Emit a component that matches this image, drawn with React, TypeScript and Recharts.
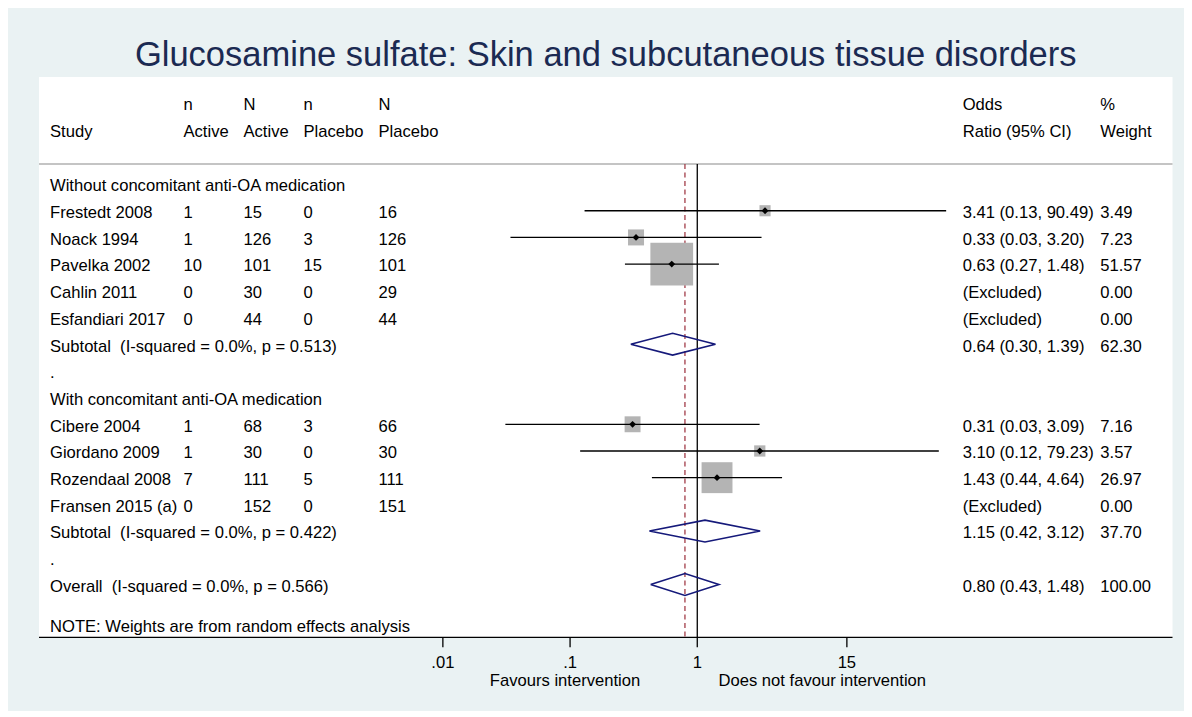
import React from 'react';
import { ComposedChart, XAxis, YAxis, Scatter, ReferenceLine, CartesianGrid } from 'recharts';

// ---------- data ----------
const TITLE = 'Glucosamine sulfate: Skin and subcutaneous tissue disorders';
const headerTop = ['', 'n', 'N', 'n', 'N', 'Odds', '%'];
const headerBottom = ['Study', 'Active', 'Active', 'Placebo', 'Placebo', 'Ratio (95% CI)', 'Weight'];

const groupLabels = ['Without concomitant anti-OA medication', 'With concomitant anti-OA medication'];
const groupRows = [0, 8];

const studyNames = [
  'Frestedt 2008', 'Noack 1994', 'Pavelka 2002', 'Cahlin 2011', 'Esfandiari 2017',
  'Cibere 2004', 'Giordano 2009', 'Rozendaal 2008', 'Fransen 2015 (a)',
];
const studyRows = [1, 2, 3, 4, 5, 9, 10, 11, 12];
const nActive = [1, 1, 10, 0, 0, 1, 1, 7, 0];
const NActive = [15, 126, 101, 30, 44, 68, 30, 111, 152];
const nPlacebo = [0, 3, 15, 0, 0, 3, 0, 5, 0];
const NPlacebo = [16, 126, 101, 29, 44, 66, 30, 111, 151];
const studyOr: (number | null)[] = [3.41, 0.33, 0.63, null, null, 0.31, 3.10, 1.43, null];
const studyLow: (number | null)[] = [0.13, 0.034, 0.27, null, null, 0.031, 0.12, 0.44, null];
const studyHigh: (number | null)[] = [90.49, 3.20, 1.48, null, null, 3.09, 79.23, 4.64, null];
const studyWeight = [3.49, 7.23, 51.57, 0.0, 0.0, 7.16, 3.57, 26.97, 0.0];

const summaryLabels = [
  'Subtotal  (I-squared = 0.0%, p = 0.513)',
  'Subtotal  (I-squared = 0.0%, p = 0.422)',
  'Overall  (I-squared = 0.0%, p = 0.566)',
];
const summaryRows = [6, 13, 15];
const summaryOr = [0.64, 1.15, 0.80];
const summaryLow = [0.30, 0.42, 0.43];
const summaryHigh = [1.39, 3.12, 1.48];
const summaryWeight = [62.30, 37.70, 100.0];

const spacerRows = [7, 14];
const noteText = 'NOTE: Weights are from random effects analysis';
const noteRow = 16.5;

const xTicks = [0.01, 0.1, 1, 15];
const xTickLabels = ['.01', '.1', '1', '15'];
const nullValue = 1;
const favoursLeft = 'Favours intervention';
const favoursRight = 'Does not favour intervention';

// ---------- layout / style ----------
const FONT = '"Liberation Sans", Arial, Helvetica, sans-serif';
const FS = 16.6;
const ORIGIN_X = 6;
const W = 1180;
const H = 704;
const PLOT_LEFT = 39;
const PLOT_RIGHT = 1172.5;
const ROW_TOP = -4.01;
const ROW_BOTTOM = 16.98;
const SEP_ROW = -0.75;
const COL_X = [50, 183.5, 243.5, 303.5, 378.5, 962.7, 1100.3];
const OR_DOMAIN = [Math.pow(10, -5.175), Math.pow(10, 3.736)];
const DIAMOND_H = 0.41;
const NAVY = '#15197a';
const DASH_RED = '#a23c48';
const BOX_GRAY = '#b4b4b4';

const fmtCI = (o: number | null, l: number | null, h: number | null) =>
  o == null || l == null || h == null ? '(Excluded)' : `${o.toFixed(2)} (${l.toFixed(2)}, ${h.toFixed(2)})`;

// ---------- build table cells ----------
type Cell = { x: number; y: number; text: string };
const cells: Cell[] = [];
headerTop.forEach((t, i) => { if (t) cells.push({ x: COL_X[i], y: -3.05, text: t }); });
headerBottom.forEach((t, i) => cells.push({ x: COL_X[i], y: -2.05, text: t }));
groupLabels.forEach((t, i) => cells.push({ x: COL_X[0], y: groupRows[i], text: t }));
studyNames.forEach((name, i) => {
  const r = studyRows[i];
  cells.push({ x: COL_X[0], y: r, text: name });
  cells.push({ x: COL_X[1], y: r, text: String(nActive[i]) });
  cells.push({ x: COL_X[2], y: r, text: String(NActive[i]) });
  cells.push({ x: COL_X[3], y: r, text: String(nPlacebo[i]) });
  cells.push({ x: COL_X[4], y: r, text: String(NPlacebo[i]) });
  cells.push({ x: COL_X[5], y: r, text: fmtCI(studyOr[i], studyLow[i], studyHigh[i]) });
  cells.push({ x: COL_X[6], y: r, text: studyWeight[i].toFixed(2) });
});
summaryLabels.forEach((t, i) => {
  const r = summaryRows[i];
  cells.push({ x: COL_X[0], y: r, text: t });
  cells.push({ x: COL_X[5], y: r, text: fmtCI(summaryOr[i], summaryLow[i], summaryHigh[i]) });
  cells.push({ x: COL_X[6], y: r, text: summaryWeight[i].toFixed(2) });
});
spacerRows.forEach((r) => cells.push({ x: COL_X[0], y: r, text: '.' }));
cells.push({ x: COL_X[0], y: noteRow, text: noteText });

// study points (included only)
const studyPoints = studyNames
  .map((_, i) => ({ x: studyOr[i], y: studyRows[i], w: studyWeight[i], lo: studyLow[i], hi: studyHigh[i] }))
  .filter((p) => p.x != null) as { x: number; y: number; w: number; lo: number; hi: number }[];

const diamonds = summaryRows.map((r, i) => [
  { x: summaryLow[i], y: r },
  { x: summaryOr[i], y: r - DIAMOND_H },
  { x: summaryHigh[i], y: r },
  { x: summaryOr[i], y: r + DIAMOND_H },
  { x: summaryLow[i], y: r },
]);

const overallOr = summaryOr[summaryOr.length - 1];

// ---------- shapes ----------
const TextShape = (p: any) => (
  <text
    x={p.cx}
    y={p.cy + 7.3}
    fontSize={FS}
    fontFamily={FONT}
    fill="#000"
    style={{ whiteSpace: 'pre' }}
  >
    {p.payload.text}
  </text>
);
const BoxShape = (p: any) => {
  const s = 5.95 * Math.sqrt(p.payload.w);
  return <rect x={p.cx - s / 2} y={p.cy - s / 2} width={s} height={s} fill={BOX_GRAY} />;
};
const MarkShape = (p: any) => {
  const d = 3.4;
  return (
    <polygon
      points={`${p.cx - d},${p.cy} ${p.cx},${p.cy - d} ${p.cx + d},${p.cy} ${p.cx},${p.cy + d}`}
      fill="#000"
    />
  );
};
const NoShape = () => <g />;

export default function App() {
  return (
    <div
      style={{
        position: 'relative',
        width: W,
        height: H,
        background: '#eaf2f3',
        marginLeft: -2,
        marginTop: -1,
        fontFamily: FONT,
      }}
    >
      <div
        style={{
          position: 'absolute',
          left: PLOT_LEFT - ORIGIN_X,
          width: PLOT_RIGHT - PLOT_LEFT,
          top: 29.5,
          fontSize: 34.5,
          lineHeight: '34px',
          textAlign: 'center',
          color: '#1b2a52',
          whiteSpace: 'nowrap',
        }}
      >
        {TITLE}
      </div>
      <ComposedChart
        width={W}
        height={H}
        margin={{ top: 70, left: PLOT_LEFT - ORIGIN_X, right: ORIGIN_X + W - PLOT_RIGHT, bottom: 13.7 }}
      >
        <CartesianGrid xAxisId="t" horizontal={false} vertical={false} fill="#ffffff" fillOpacity={1} />
        <XAxis xAxisId="t" dataKey="x" type="number" domain={[PLOT_LEFT, PLOT_RIGHT]} hide allowDataOverflow />
        <XAxis
          xAxisId="or"
          dataKey="x"
          type="number"
          scale="log"
          domain={OR_DOMAIN}
          allowDataOverflow
          ticks={xTicks}
          interval={0}
          height={60}
          tickSize={10}
          tickMargin={9}
          tickFormatter={(v: number) => xTickLabels[xTicks.indexOf(v)] ?? String(v)}
          tick={{ fontSize: FS, fill: '#000', fontFamily: FONT }}
          axisLine={{ stroke: '#000', strokeWidth: 1.3 }}
          tickLine={{ stroke: '#000', strokeWidth: 1.3 }}
        />
        <YAxis dataKey="y" type="number" domain={[ROW_TOP, ROW_BOTTOM]} reversed hide allowDataOverflow />

        <ReferenceLine xAxisId="t" y={SEP_ROW} stroke="#c4c4c4" strokeWidth={1.8} />

        {/* null line and overall line */}
        <Scatter
          xAxisId="or"
          data={[{ x: nullValue, y: SEP_ROW }, { x: nullValue, y: ROW_BOTTOM }]}
          line={{ stroke: '#000', strokeWidth: 1.3 }}
          shape={NoShape}
          isAnimationActive={false}
        />
        <Scatter
          xAxisId="or"
          data={[{ x: overallOr, y: SEP_ROW }, { x: overallOr, y: ROW_BOTTOM }]}
          line={{ stroke: DASH_RED, strokeWidth: 1.3, strokeDasharray: '5 3.5' }}
          shape={NoShape}
          isAnimationActive={false}
        />

        {/* weight boxes */}
        <Scatter xAxisId="or" data={studyPoints} shape={BoxShape} isAnimationActive={false} />

        {/* confidence intervals */}
        {studyPoints.map((p, i) => (
          <Scatter
            key={'ci' + i}
            xAxisId="or"
            data={[{ x: p.lo, y: p.y }, { x: p.hi, y: p.y }]}
            line={{ stroke: '#000', strokeWidth: 1.3 }}
            shape={NoShape}
            isAnimationActive={false}
          />
        ))}

        {/* point estimates */}
        <Scatter xAxisId="or" data={studyPoints} shape={MarkShape} isAnimationActive={false} />

        {/* pooled diamonds */}
        {diamonds.map((d, i) => (
          <Scatter
            key={'dm' + i}
            xAxisId="or"
            data={d}
            line={{ stroke: NAVY, strokeWidth: 1.6, strokeLinejoin: 'miter' }}
            shape={NoShape}
            isAnimationActive={false}
          />
        ))}

        {/* table text */}
        <Scatter xAxisId="t" data={cells} shape={TextShape} isAnimationActive={false} />
      </ComposedChart>
      <div
        style={{
          position: 'absolute',
          left: 559 - 150,
          width: 300,
          top: 664,
          fontSize: FS,
          lineHeight: '20px',
          textAlign: 'center',
          color: '#000',
        }}
      >
        {favoursLeft}
      </div>
      <div
        style={{
          position: 'absolute',
          left: 816.3 - 150,
          width: 300,
          top: 664,
          fontSize: FS,
          lineHeight: '20px',
          textAlign: 'center',
          color: '#000',
        }}
      >
        {favoursRight}
      </div>
    </div>
  );
}
